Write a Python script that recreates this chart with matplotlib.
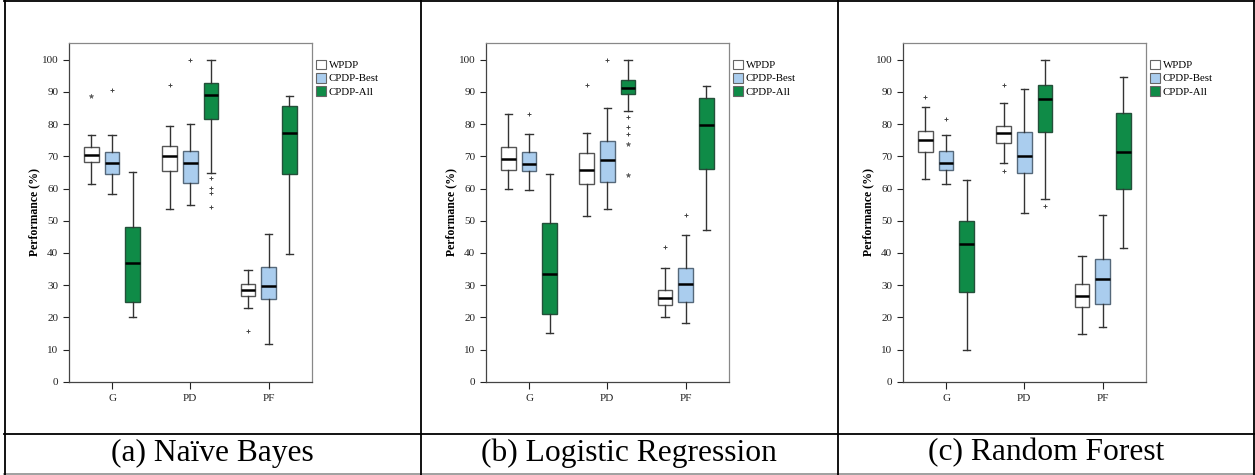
import matplotlib.pyplot as plt
from matplotlib.lines import Line2D
from matplotlib.patches import Patch

plt.rcParams['font.family'] = ['Liberation Serif', 'DejaVu Serif']

metrics = ['G', 'PD', 'PF']
methods = ['WPDP', 'CPDP-Best', 'CPDP-All']
captions = ['(a) Naïve Bayes', '(b) Logistic Regression', '(c) Random Forest']

# five-number summaries per metric: (whisker low, q1, median, q3, whisker high)
nb_wpdp = [(61.4, 68.1, 70.5, 72.8, 76.7), (53.7, 65.3, 70.0, 73.3, 79.5), (23.0, 26.5, 28.4, 30.2, 34.6)]
nb_best = [(58.3, 64.4, 67.8, 71.4, 76.5), (55.0, 61.7, 67.9, 71.8, 80.0), (11.7, 25.6, 29.7, 35.5, 46.0)]
nb_all = [(20.0, 24.7, 36.9, 48.2, 65.2), (64.9, 81.6, 89.1, 92.8, 99.9), (39.8, 64.6, 77.1, 85.7, 88.8)]

lr_wpdp = [(59.8, 65.8, 69.3, 72.8, 83.0), (51.6, 61.4, 65.7, 71.0, 77.3), (20.0, 23.7, 26.1, 28.6, 35.4)]
lr_best = [(59.6, 65.3, 67.7, 71.4, 76.8), (53.7, 62.1, 69.0, 74.8, 85.0), (18.3, 24.8, 30.3, 35.2, 45.5)]
lr_all = [(15.2, 20.9, 33.4, 49.2, 64.4), (84.0, 89.5, 91.2, 93.8, 100.0), (47.0, 66.1, 79.6, 88.0, 91.7)]

rf_wpdp = [(63.0, 71.3, 75.1, 77.9, 85.4), (68.0, 74.2, 77.4, 79.5, 86.6), (14.9, 23.1, 26.7, 30.4, 39.0)]
rf_best = [(61.5, 65.8, 67.9, 71.8, 76.7), (52.3, 64.7, 70.2, 77.6, 90.9), (17.0, 24.2, 31.9, 38.0, 51.9)]
rf_all = [(10.0, 28.0, 42.8, 49.9, 62.8), (56.9, 77.6, 87.8, 92.2, 100.0), (41.6, 59.8, 71.4, 83.4, 94.7)]

# outliers: (metric index, method index, value)
nb_plus = [(0, 1, 90.6), (1, 0, 92.3), (1, 1, 99.9), (1, 2, 63.4), (1, 2, 60.2), (1, 2, 58.7), (1, 2, 54.3), (2, 0, 15.9)]
nb_star = [(0, 0, 88.7)]
lr_plus = [(0, 1, 83.2), (1, 0, 92.3), (1, 1, 99.9), (1, 2, 82.1), (1, 2, 79.2), (1, 2, 76.9),
           (2, 0, 41.8), (2, 1, 51.9)]
lr_star = [(1, 2, 73.9), (1, 2, 64.1)]
rf_plus = [(0, 0, 88.3), (0, 1, 81.6), (1, 0, 92.3), (1, 0, 65.6), (1, 2, 54.5)]
rf_star = []

panels = [
    (nb_wpdp, nb_best, nb_all, nb_plus, nb_star),
    (lr_wpdp, lr_best, lr_all, lr_plus, lr_star),
    (rf_wpdp, rf_best, rf_all, rf_plus, rf_star),
]

face_colors = ['white', '#aacdee', '#0f8b47']
edge_colors = ['#555555', '#55687a', '#24503a']
offsets = [-0.264, 0.0, 0.264]
box_w = 0.187

fig = plt.figure(figsize=(12.55, 4.75), dpi=100)
W, H = 1255, 475

ax_lefts = [68.7, 485.7, 902.7]
for p, (wpdp, best, allp, plus, star) in enumerate(panels):
    ax = fig.add_axes([ax_lefts[p] / W, 1 - 381.7 / H, 243.3 / W, 339.0 / H])
    for m, series in enumerate([wpdp, best, allp]):
        stats = []
        for lo, q1, med, q3, hi in series:
            stats.append(dict(whislo=lo, q1=q1, med=med, q3=q3, whishi=hi, fliers=[]))
        pos = [i + offsets[m] for i in range(len(metrics))]
        ax.bxp(stats, positions=pos, widths=box_w, patch_artist=True, showfliers=False,
               capwidths=box_w * 0.5,
               boxprops=dict(facecolor=face_colors[m], edgecolor=edge_colors[m], linewidth=1.0),
               medianprops=dict(color='black', linewidth=1.8),
               whiskerprops=dict(color='#333333', linewidth=1.0),
               capprops=dict(color='#333333', linewidth=1.0))
    for i, m, v in plus:
        ax.plot(i + offsets[m], v, marker='+', color='#444444', markersize=3, mew=0.7, linestyle='none')
    for i, m, v in star:
        ax.plot(i + offsets[m], v, marker='*', color='#555555', markersize=3.5, mew=0.3, linestyle='none')

    ax.set_xlim(-0.553, 2.553)
    ax.set_ylim(0, 105.3)
    ax.set_yticks(range(0, 101, 10))
    ax.set_xticks(range(len(metrics)))
    ax.set_xticklabels(metrics)
    ax.tick_params(labelsize=8, colors='#222222', length=4, width=0.8)
    ax.tick_params(axis='x', length=5)
    for s in ax.spines.values():
        s.set_color('#888888')
        s.set_linewidth(0.9)
    ax.spines['left'].set_color('#444444')
    ax.spines['bottom'].set_color('#444444')
    ax.set_ylabel('Performance (%)', fontsize=8.5, fontweight='bold')
    ax.yaxis.set_label_coords(-0.118, 0.5)

    handles = [Patch(facecolor=face_colors[k], edgecolor='#666666', linewidth=0.8) for k in range(3)]
    ax.legend(handles, methods, loc='upper left', bbox_to_anchor=(1.015, 0.95), frameon=False,
              fontsize=7.8, handlelength=1.0, handleheight=1.0, handletextpad=0.2,
              labelspacing=0.25, borderaxespad=0, borderpad=0)

# table frame and captions
def hline(y, x0, x1, color='black'):
    fig.add_artist(Line2D([x0 / W, x1 / W], [1 - y / H, 1 - y / H], color=color, linewidth=1.3))

def vline(x, y0, y1, color='black'):
    fig.add_artist(Line2D([x / W, x / W], [1 - y0 / H, 1 - y1 / H], color=color, linewidth=1.3))

hline(0.7, 4, 1255)
hline(434, 4, 1255)
hline(474, 4, 1255, color='#999999')
vline(4.5, 0, 475)
vline(420.5, 0, 475)
vline(838, 0, 475)
vline(1254.3, 0, 475)

cap_x = [212, 629, 1046]
for x, c in zip(cap_x, captions):
    fig.text(x / W, 1 - 453 / H, c, fontsize=22.7, ha='center', va='center')

fig.savefig('out.png', dpi=100)
